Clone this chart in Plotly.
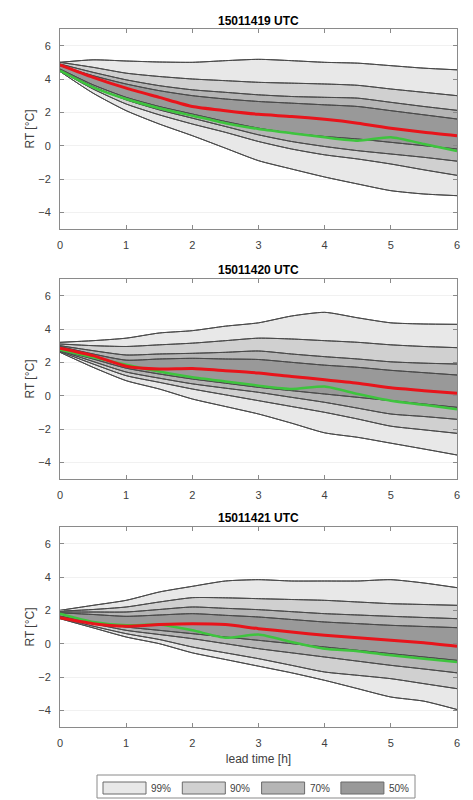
import plotly.graph_objects as go

# lead time [h]
lead = [0, 0.5, 1, 1.5, 2, 2.5, 3, 3.5, 4, 4.5, 5, 5.5, 6]

titles = ["15011419 UTC", "15011420 UTC", "15011421 UTC"]
levels = ["99%", "90%", "70%", "50%"]

# panel 1: 15011419 UTC
p1_hi99 = [5.0, 5.15, 5.08, 5.02, 5.0, 5.1, 5.18, 5.1, 5.0, 4.95, 4.8, 4.65, 4.55]
p1_hi90 = [5.0, 4.7, 4.35, 4.15, 4.0, 3.9, 3.8, 3.75, 3.7, 3.62, 3.4, 3.2, 3.0]
p1_hi70 = [4.9, 4.4, 3.95, 3.6, 3.35, 3.2, 3.05, 2.95, 2.9, 2.85, 2.6, 2.35, 2.12]
p1_hi50 = [4.8, 4.2, 3.7, 3.3, 3.0, 2.8, 2.65, 2.55, 2.45, 2.35, 2.1, 1.85, 1.6]
p1_lo50 = [4.6, 3.65, 2.9, 2.35, 1.9, 1.45, 1.05, 0.75, 0.55, 0.4, 0.2, 0.0, -0.2]
p1_lo70 = [4.55, 3.55, 2.75, 2.15, 1.65, 1.15, 0.65, 0.25, -0.05, -0.3, -0.5, -0.7, -0.93]
p1_lo90 = [4.5, 3.4, 2.5, 1.85, 1.3, 0.8, 0.25, -0.2, -0.55, -0.8, -1.1, -1.45, -1.78]
p1_lo99 = [4.45, 3.15, 2.1, 1.3, 0.6, -0.15, -0.9, -1.4, -1.88, -2.3, -2.7, -2.9, -3.0]
p1_red = [4.85, 4.1, 3.45, 2.9, 2.35, 2.1, 1.88, 1.75, 1.58, 1.35, 1.05, 0.8, 0.6]
p1_green = [4.5, 3.5, 2.8, 2.25, 1.8, 1.35, 1.0, 0.75, 0.5, 0.3, 0.5, 0.1, -0.32]

# panel 2: 15011420 UTC
p2_hi99 = [3.2, 3.3, 3.45, 3.76, 3.9, 4.17, 4.37, 4.78, 5.0, 4.67, 4.37, 4.3, 4.28]
p2_hi90 = [3.1, 3.0, 2.95, 3.05, 3.15, 3.3, 3.45, 3.4, 3.3, 3.2, 3.05, 2.95, 2.88]
p2_hi70 = [3.0, 2.7, 2.44, 2.5, 2.54, 2.6, 2.68, 2.5, 2.34, 2.2, 2.03, 1.95, 1.9]
p2_hi50 = [2.95, 2.5, 2.13, 2.2, 2.24, 2.2, 2.17, 2.0, 1.83, 1.7, 1.52, 1.38, 1.24]
p2_lo50 = [2.72, 2.2, 1.65, 1.3, 1.0, 0.75, 0.5, 0.3, 0.1, -0.1, -0.3, -0.5, -0.7]
p2_lo70 = [2.7, 2.05, 1.42, 1.05, 0.71, 0.45, 0.2, -0.1, -0.4, -0.75, -1.1, -1.25, -1.42]
p2_lo90 = [2.65, 1.9, 1.2, 0.8, 0.4, 0.05, -0.3, -0.65, -1.0, -1.4, -1.83, -2.05, -2.26]
p2_lo99 = [2.6, 1.7, 0.9, 0.4, -0.2, -0.65, -1.1, -1.65, -2.23, -2.5, -2.85, -3.2, -3.56]
p2_red = [2.85, 2.4, 1.77, 1.6, 1.63, 1.5, 1.36, 1.15, 0.96, 0.75, 0.47, 0.3, 0.15]
p2_green = [2.75, 2.3, 1.85, 1.45, 1.1, 0.85, 0.6, 0.4, 0.55, 0.1, -0.3, -0.55, -0.81]

# panel 3: 15011421 UTC
p3_hi99 = [2.0, 2.3, 2.6, 3.1, 3.44, 3.76, 3.84, 3.76, 3.76, 3.76, 3.84, 3.64, 3.36]
p3_hi90 = [1.95, 2.05, 2.2, 2.5, 2.76, 2.75, 2.7, 2.65, 2.6, 2.5, 2.4, 2.35, 2.3]
p3_hi70 = [1.9, 1.9, 1.9, 2.05, 2.2, 2.12, 2.04, 1.92, 1.8, 1.72, 1.64, 1.57, 1.5]
p3_hi50 = [1.85, 1.75, 1.64, 1.72, 1.8, 1.7, 1.6, 1.45, 1.3, 1.2, 1.1, 1.03, 0.96]
p3_lo50 = [1.65, 1.3, 1.0, 0.8, 0.6, 0.4, 0.2, 0.0, -0.2, -0.4, -0.6, -0.8, -1.0]
p3_lo70 = [1.6, 1.2, 0.8, 0.55, 0.3, 0.0, -0.3, -0.55, -0.8, -1.05, -1.3, -1.52, -1.75]
p3_lo90 = [1.55, 1.05, 0.6, 0.25, -0.2, -0.55, -0.9, -1.3, -1.7, -1.9, -2.1, -2.4, -2.7]
p3_lo99 = [1.5, 0.95, 0.4, 0.0, -0.55, -0.95, -1.35, -1.75, -2.2, -2.7, -3.2, -3.45, -3.95]
p3_red = [1.55, 1.2, 1.05, 1.15, 1.2, 1.15, 0.9, 0.7, 0.5, 0.35, 0.2, 0.05, -0.16]
p3_green = [1.8, 1.3, 1.1, 1.15, 0.8, 0.35, 0.55, 0.1, -0.3, -0.45, -0.7, -0.9, -1.1]

panels = [
    dict(bands=[(p1_lo99, p1_hi99), (p1_lo90, p1_hi90), (p1_lo70, p1_hi70), (p1_lo50, p1_hi50)],
         red=p1_red, green=p1_green),
    dict(bands=[(p2_lo99, p2_hi99), (p2_lo90, p2_hi90), (p2_lo70, p2_hi70), (p2_lo50, p2_hi50)],
         red=p2_red, green=p2_green),
    dict(bands=[(p3_lo99, p3_hi99), (p3_lo90, p3_hi90), (p3_lo70, p3_hi70), (p3_lo50, p3_hi50)],
         red=p3_red, green=p3_green),
]

band_colors = ["#e8e8e8", "#d0d0d0", "#b5b5b5", "#999999"]
edge = dict(color="#4a4a4a", width=1, shape="spline", smoothing=0.6)

W, H = 473, 800
ML, MR = 60, 16
# plot-area pixel rows (top, bottom) of each panel
rows_px = [(29, 229), (279, 479), (527, 727)]
title_px = [21, 270, 518]

fig = go.Figure()

for i, p in enumerate(panels):
    xa = "x" if i == 0 else f"x{i + 1}"
    ya = "y" if i == 0 else f"y{i + 1}"
    for (lo, hi), col in zip(p["bands"], band_colors):
        fig.add_trace(go.Scatter(x=lead, y=lo, mode="lines", line=edge,
                                 xaxis=xa, yaxis=ya, showlegend=False, hoverinfo="skip"))
        fig.add_trace(go.Scatter(x=lead, y=hi, mode="lines", line=edge, fill="tonexty",
                                 fillcolor=col, xaxis=xa, yaxis=ya, showlegend=False,
                                 hoverinfo="skip"))
    # outer edges drawn again so they sit above the inner fills
    for lo, hi in p["bands"]:
        for s in (lo, hi):
            fig.add_trace(go.Scatter(x=lead, y=s, mode="lines", line=edge,
                                     xaxis=xa, yaxis=ya, showlegend=False, hoverinfo="skip"))
    fig.add_trace(go.Scatter(x=lead, y=p["green"], mode="lines",
                             line=dict(color="#3ec43e", width=2.5, shape="spline", smoothing=0.6),
                             xaxis=xa, yaxis=ya, showlegend=False))
    fig.add_trace(go.Scatter(x=lead, y=p["red"], mode="lines",
                             line=dict(color="#e8141b", width=3, shape="spline", smoothing=0.6),
                             xaxis=xa, yaxis=ya, showlegend=False))

axis_font = dict(family="Liberation Sans, Arial", size=11, color="#404040")
layout = dict(
    width=W, height=H,
    margin=dict(l=ML, r=MR, t=0, b=0),
    paper_bgcolor="white", plot_bgcolor="white",
    showlegend=False,
    font=dict(family="Liberation Sans, Arial", size=11, color="#333"),
)
for i, (top, bot) in enumerate(rows_px):
    k = "" if i == 0 else str(i + 1)
    layout["xaxis" + k] = dict(
        domain=[0, 1], anchor="y" + k, range=[0, 6], tickvals=[0, 1, 2, 3, 4, 5, 6],
        showline=True, mirror="ticks", linecolor="#8a8a8a", linewidth=1,
        ticks="inside", ticklen=4, tickcolor="#8a8a8a", showgrid=False, zeroline=False,
        tickfont=axis_font, ticklabelstandoff=6,
    )
    layout["yaxis" + k] = dict(
        domain=[1 - bot / H, 1 - top / H], anchor="x" + k, range=[-5, 7],
        tickvals=[-4, -2, 0, 2, 4, 6],
        showline=True, mirror="ticks", linecolor="#8a8a8a", linewidth=1,
        ticks="inside", ticklen=4, tickcolor="#8a8a8a",
        showgrid=True, gridcolor="#f1f1f1", zeroline=False,
        tickfont=axis_font, ticklabelstandoff=6,
        title=dict(text="RT [°C]", standoff=1, font=dict(size=12, color="#404040")),
    )
layout["xaxis3"]["title"] = dict(text="lead time [h]", standoff=6,
                                 font=dict(size=12, color="#404040"))
fig.update_layout(**layout)

for t, ty in zip(titles, title_px):
    fig.add_annotation(text=f"<b>{t}</b>", xref="paper", yref="paper", x=0.5, y=1 - ty / H,
                       showarrow=False, yanchor="middle",
                       font=dict(family="Liberation Sans, Arial", size=12, color="black"))

# legend box below the bottom panel
def px_x(v):
    return (v - ML) / (W - ML - MR)

def px_y(v):
    return 1 - v / H

fig.add_shape(type="rect", xref="paper", yref="paper", x0=px_x(97), x1=px_x(415),
              y0=px_y(798), y1=px_y(775), line=dict(color="#8a8a8a", width=1),
              fillcolor="white")
for j, (lab, col) in enumerate(zip(levels, band_colors)):
    x0 = 103 + j * 79.3
    fig.add_shape(type="rect", xref="paper", yref="paper", x0=px_x(x0), x1=px_x(x0 + 43),
                  y0=px_y(794), y1=px_y(782), line=dict(color="#6a6a6a", width=1),
                  fillcolor=col)
    fig.add_annotation(text=lab, xref="paper", yref="paper", x=px_x(x0 + 46), y=px_y(788),
                       xanchor="left", yanchor="middle", showarrow=False,
                       font=dict(size=10, color="#404040"))

fig.write_html("out.html", config={"displayModeBar": False},
               post_script="document.body.style.margin='0';")
